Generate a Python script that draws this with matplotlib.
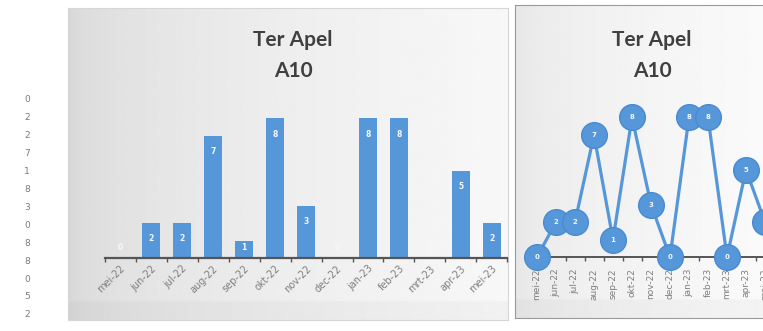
import numpy as np
import matplotlib
matplotlib.use("Agg")
import matplotlib.pyplot as plt

# data
months = ["mei-22", "jun-22", "jul-22", "aug-22", "sep-22", "okt-22", "nov-22",
          "dec-22", "jan-23", "feb-23", "mrt-23", "apr-23", "mei-23"]
counts = [0, 2, 2, 7, 1, 8, 3, 0, 8, 8, 0, 5, 2]
title_lines = ["Ter Apel", "A10"]

W, H = 763, 331
blue = "#5597d8"
fig = plt.figure(figsize=(W / 100, H / 100), dpi=100)
fig.patch.set_facecolor("white")


def px_axes(x0, y0, x1, y1, **kw):
    # axes placed by pixel box (top-left origin)
    return fig.add_axes([x0 / W, 1 - y1 / H, (x1 - x0) / W, (y1 - y0) / H], **kw)


def panel(x0, y0, x1, y1, lo, hi, edge):
    bg = px_axes(x0, y0, x1, y1)
    gx, gy = np.meshgrid(np.linspace(0, 1, 300), np.linspace(0, 1, 150))
    shade = lo + (hi - lo) * gx ** 0.5 - 0.025 * (gy > 0.94)
    bg.imshow(shade, cmap="gray", vmin=0, vmax=1, aspect="auto",
              extent=[0, 1, 0, 1], origin="upper", interpolation="bilinear")
    bg.set_xticks([])
    bg.set_yticks([])
    for s in bg.spines.values():
        s.set_color(edge)
        s.set_linewidth(0.8)
    return bg


def put_title(xc):
    for line, yc in zip(title_lines, [40, 71]):
        fig.text(xc / W, 1 - yc / H, line, ha="center", va="center", fontsize=15,
                 fontweight="bold", color="#404040", family="Lato")


# left panel: bar chart
panel(68, 8, 508, 320, 0.84, 0.97, "#d6d6d6")
bar_ax = px_axes(104.5, 101, 507.5, 258)
bar_ax.patch.set_alpha(0)
x = np.arange(len(months))
bar_ax.bar(x, counts, width=0.58, color=blue, zorder=2)
for i, v in enumerate(counts):
    bar_ax.text(i, max(v - 0.9, 0.6), str(v), color="#f4f8fc", fontsize=5.5,
                ha="center", va="center", fontweight="bold", zorder=3)
bar_ax.set_xlim(-0.5, len(months) - 0.5)
bar_ax.set_ylim(0, 9)
bar_ax.set_yticks([])
bar_ax.set_xticks(x)
bar_ax.set_xticklabels(months, rotation=45, ha="right", rotation_mode="anchor",
                       fontsize=7, color="#7f7f7f")
bar_ax.set_xticks(np.arange(-0.5, len(months)), minor=True)
bar_ax.tick_params(axis="x", which="major", length=0, pad=4)
bar_ax.tick_params(axis="x", which="minor", length=3, width=1, color="#555555")
for s in ["top", "left", "right"]:
    bar_ax.spines[s].set_visible(False)
bar_ax.spines["bottom"].set_color("#555555")
bar_ax.spines["bottom"].set_linewidth(1.6)
put_title(293)

# right panel: line chart (cut off at the right edge)
panel(515, 5, 770, 318, 0.90, 0.98, "#9a9a9a")
line_ax = px_axes(527.5, 100, 774.5, 257)
line_ax.patch.set_alpha(0)
line_ax.plot(x, counts, color=blue, lw=2.3, marker="o", ms=18.5,
             mfc=blue, mec="#4a8ad0", clip_on=False, zorder=3)
for i, v in enumerate(counts):
    line_ax.text(i, v, str(v), color="#f4f8fc", fontsize=5, ha="center",
                 va="center", fontweight="bold", zorder=4, clip_on=False)
line_ax.set_xlim(-0.5, len(months) - 0.5)
line_ax.set_ylim(0, 9)
line_ax.set_yticks([])
line_ax.set_xticks(x)
line_ax.set_xticklabels(months, rotation=90, ha="center", va="top",
                        fontsize=6.5, color="#7f7f7f")
line_ax.set_xticks(np.arange(-0.5, len(months)), minor=True)
line_ax.tick_params(axis="x", which="major", length=0, pad=8)
line_ax.tick_params(axis="x", which="minor", length=3, width=1, color="#555555")
for s in ["top", "left", "right"]:
    line_ax.spines[s].set_visible(False)
line_ax.spines["bottom"].set_color("#555555")
line_ax.spines["bottom"].set_linewidth(1.4)
put_title(652)

# column of values at the far left
for i, v in enumerate(counts):
    fig.text(27 / W, 1 - (100 + i * 17.9) / H, str(v), ha="center", va="center",
             fontsize=6.5, color="#7a7a7a")

fig.savefig("out.png", dpi=100)
